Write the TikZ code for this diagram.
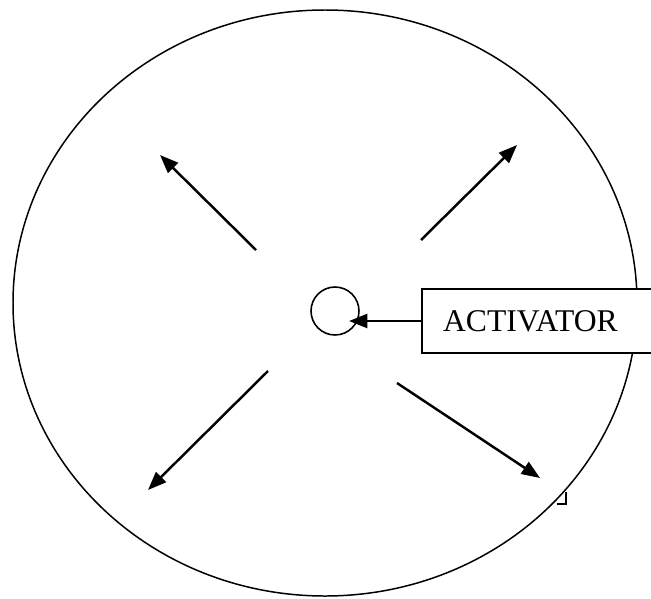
\documentclass[tikz,border=0pt]{standalone}
\usepackage{fontspec}
\setmainfont{Liberation Serif}
\usepackage{tikz}
\usetikzlibrary{positioning, arrows.meta, calc}

\tikzset{
    spoke/.style={line width=1.4pt, -{Triangle[length=10.5pt, width=8pt]}},
    actbox/.style={draw, fill=white, line width=1.3pt, anchor=west, minimum height=1.28cm,
        inner xsep=0.42cm, text width=3.94cm, align=left, font=\fontsize{18}{20}\selectfont},
    core/.style={draw, circle, line width=0.9pt, minimum size=0.96cm, inner sep=0pt}
}

\begin{document}
\begin{tikzpicture}[x=0.02cm, y=-0.02cm]
    \useasboundingbox (0,0) rectangle (651,598);
    \clip (0,0) rectangle (651,598);
    \draw[line width=0.85pt] (325,303) ellipse (312 and 293);
    \node[core] (core) at (335,311) {};
    \node[actbox] (act) at (421,321) {ACTIVATOR};
    \coordinate (hit) at (349,321);
    \draw[spoke] (act.west) -- (hit);
    % the four spokes
    \coordinate (ulS) at (256,250);
    \coordinate (ulE) at (160,155);
    \coordinate (urS) at (421,240);
    \coordinate (urE) at (517,145);
    \coordinate (llS) at (268,371);
    \coordinate (llE) at (148,490);
    \coordinate (lrS) at (397,383);
    \coordinate (lrE) at (540,478);
    \draw[spoke] (ulS) -- (ulE);
    \draw[spoke] (urS) -- (urE);
    \draw[spoke] (llS) -- (llE);
    \draw[spoke] (lrS) -- (lrE);
    \draw[line width=0.6pt] (566,492) -- (566,504) -- (557,504);
\end{tikzpicture}
\end{document}
